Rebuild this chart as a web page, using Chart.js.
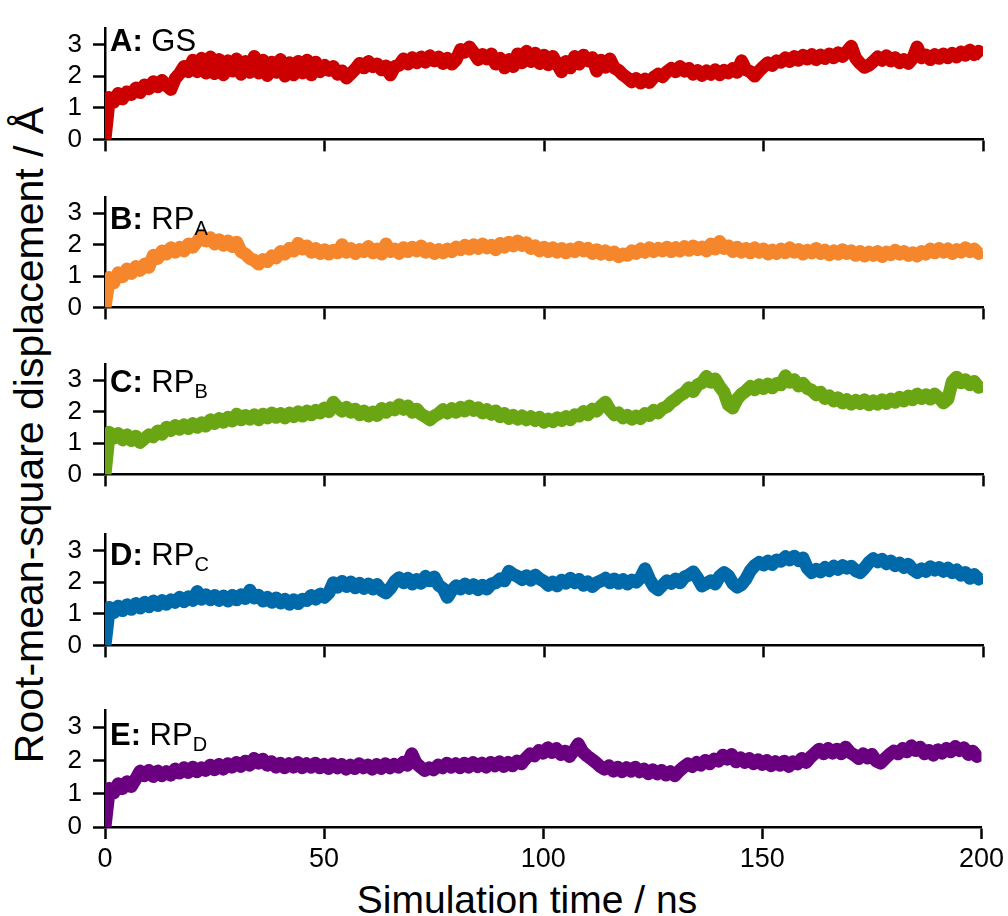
<!DOCTYPE html>
<html>
<head>
<meta charset="utf-8">
<script src="https://cdn.jsdelivr.net/npm/chart.js@4.4.1/dist/chart.umd.min.js"></script>
<style>
body { margin: 0; background: #fff; }
#page { position: relative; width: 1008px; height: 916px; overflow: hidden; font-family: "Liberation Sans", Arial, sans-serif; color: #000; }
#page canvas { position: absolute; left: 0; }
.ytitle { position: absolute; left: 29px; top: 435px; font-size: 41px; line-height: 1; white-space: nowrap; transform: translate(-50%, -50%) rotate(-90deg); }
.xtitle { position: absolute; left: 527px; top: 880px; font-size: 39px; line-height: 1; white-space: nowrap; transform: translateX(-50%); }
</style>
</head>
<body>
<div id="page">
  <div class="ytitle">Root-mean-square displacement / Å</div>
  <div class="xtitle">Simulation time / ns</div>
</div>
<script>
// RMSD traces, one value per ns from 0 to 200 ns (Å)
const rmsdGS = [
  0, 1.32, 1.18, 1.45, 1.28, 1.50, 1.42, 1.62, 1.48, 1.72,
  1.60, 1.82, 1.66, 1.86, 1.70, 1.58, 1.92, 2.08, 2.30, 2.14,
  2.50, 2.14, 2.56, 2.10, 2.60, 2.08, 2.52, 2.04, 2.48, 2.16,
  2.54, 2.06, 2.46, 2.12, 2.62, 2.10, 2.50, 2.02, 2.44, 2.12,
  2.52, 2.00, 2.42, 2.04, 2.46, 2.10, 2.50, 2.04, 2.44, 2.14,
  2.34, 2.18, 2.30, 2.06, 2.16, 1.94, 2.08, 2.22, 2.40, 2.26,
  2.46, 2.30, 2.38, 2.20, 2.32, 2.04, 2.30, 2.34, 2.54, 2.38,
  2.58, 2.42, 2.60, 2.44, 2.64, 2.48, 2.60, 2.40, 2.56, 2.38,
  2.52, 2.84, 2.76, 2.92, 2.74, 2.52, 2.68, 2.54, 2.70, 2.38,
  2.56, 2.26, 2.52, 2.30, 2.70, 2.42, 2.78, 2.46, 2.72, 2.40,
  2.66, 2.36, 2.62, 2.38, 2.14, 2.46, 2.26, 2.62, 2.38, 2.66,
  2.48, 2.58, 2.16, 2.50, 2.28, 2.54, 2.26, 2.18, 2.04, 1.94,
  1.82, 1.92, 1.78, 1.90, 1.80, 1.96, 2.06, 1.98, 2.14, 2.24,
  2.14, 2.30, 2.16, 2.24, 2.06, 2.18, 2.02, 2.16, 2.06, 2.20,
  2.04, 2.18, 2.10, 2.24, 2.12, 2.48, 2.20, 2.14, 2.00, 2.16,
  2.30, 2.42, 2.34, 2.48, 2.44, 2.58, 2.46, 2.62, 2.50, 2.66,
  2.54, 2.68, 2.52, 2.66, 2.56, 2.70, 2.58, 2.74, 2.62, 2.78,
  2.94, 2.56, 2.40, 2.28, 2.34, 2.46, 2.60, 2.50, 2.64, 2.48,
  2.58, 2.42, 2.52, 2.40, 2.56, 2.92, 2.58, 2.66, 2.52, 2.68,
  2.56, 2.70, 2.58, 2.72, 2.60, 2.76, 2.66, 2.82, 2.68, 2.78,
  2.64
]
const rmsdRPA = [
  0, 0.95, 0.78, 1.10, 0.98, 1.22, 1.08, 1.30, 1.18, 1.38,
  1.28, 1.66, 1.56, 1.80, 1.70, 1.90, 1.76, 1.92, 1.80, 2.02,
  1.92, 2.10, 2.30, 2.12, 2.22, 2.02, 2.16, 1.98, 2.12, 1.94,
  2.08, 1.78, 1.70, 1.56, 1.50, 1.38, 1.52, 1.46, 1.64, 1.58,
  1.78, 1.70, 1.88, 1.80, 2.04, 1.86, 1.96, 1.76, 1.88, 1.72,
  1.84, 1.70, 1.82, 1.74, 2.00, 1.76, 1.88, 1.72, 1.84, 1.78,
  1.94, 1.74, 1.86, 1.70, 2.02, 1.78, 1.86, 1.72, 1.90, 1.78,
  1.92, 1.80, 1.96, 1.76, 1.88, 1.72, 1.84, 1.74, 1.86, 1.78,
  1.92, 1.84, 1.98, 1.86, 2.00, 1.88, 2.02, 1.90, 1.98, 1.84,
  2.04, 1.92, 2.08, 1.96, 2.12, 1.98, 2.06, 1.88, 1.96, 1.80,
  1.92, 1.78, 1.90, 1.76, 1.88, 1.74, 1.86, 1.78, 1.92, 1.80,
  1.88, 1.72, 1.84, 1.70, 1.80, 1.68, 1.76, 1.62, 1.70, 1.66,
  1.80, 1.72, 1.86, 1.76, 1.90, 1.78, 1.88, 1.80, 1.92, 1.78,
  1.90, 1.80, 1.94, 1.82, 1.96, 1.84, 1.92, 1.80, 2.02, 1.86,
  2.10, 1.88, 1.96, 1.78, 1.92, 1.76, 1.88, 1.74, 1.90, 1.76,
  1.86, 1.70, 1.82, 1.72, 1.86, 1.74, 1.90, 1.76, 1.84, 1.70,
  1.82, 1.74, 1.88, 1.72, 1.82, 1.68, 1.80, 1.70, 1.84, 1.72,
  1.80, 1.66, 1.78, 1.64, 1.76, 1.66, 1.78, 1.62, 1.76, 1.68,
  1.82, 1.70, 1.78, 1.66, 1.74, 1.64, 1.78, 1.70, 1.86, 1.74,
  1.88, 1.76, 1.86, 1.72, 1.84, 1.76, 1.90, 1.78, 1.86, 1.72,
  1.80
]
const rmsdRPB = [
  0, 1.34, 1.16, 1.30, 1.10, 1.26, 1.08, 1.22, 1.02, 1.14,
  1.26, 1.20, 1.38, 1.28, 1.50, 1.40, 1.56, 1.44, 1.58, 1.46,
  1.62, 1.50, 1.64, 1.54, 1.74, 1.62, 1.78, 1.66, 1.82, 1.70,
  1.92, 1.74, 1.88, 1.76, 1.90, 1.74, 1.92, 1.80, 1.96, 1.82,
  1.94, 1.80, 1.96, 1.84, 2.00, 1.86, 2.02, 1.90, 2.04, 1.96,
  2.12, 2.00, 2.30, 2.14, 2.02, 2.14, 1.98, 2.08, 1.90, 2.02,
  1.86, 1.98, 1.88, 2.10, 1.98, 2.12, 2.06, 2.22, 2.08, 2.18,
  1.98, 2.08, 1.92, 1.84, 1.74, 1.86, 1.94, 2.06, 1.96, 2.10,
  1.98, 2.14, 2.02, 2.18, 2.04, 2.12, 1.96, 2.06, 1.92, 2.02,
  1.84, 1.94, 1.78, 1.88, 1.76, 1.86, 1.74, 1.84, 1.72, 1.82,
  1.66, 1.76, 1.68, 1.80, 1.72, 1.84, 1.74, 1.90, 1.86, 2.00,
  1.90, 2.08, 2.02, 2.18, 2.30, 2.06, 1.90, 1.96, 1.80, 1.88,
  1.76, 1.86, 1.78, 1.94, 1.88, 2.04, 1.96, 2.10, 2.16, 2.30,
  2.40, 2.52, 2.60, 2.76, 2.64, 2.86, 2.92, 3.12, 2.94, 3.04,
  2.80, 2.62, 2.22, 2.12, 2.40, 2.56, 2.66, 2.80, 2.70, 2.86,
  2.74, 2.88, 2.76, 2.90, 2.86, 3.14, 2.94, 3.02, 2.82, 2.90,
  2.74, 2.68, 2.54, 2.62, 2.42, 2.50, 2.34, 2.44, 2.28, 2.38,
  2.24, 2.36, 2.26, 2.38, 2.22, 2.34, 2.24, 2.38, 2.26, 2.40,
  2.30, 2.46, 2.34, 2.50, 2.38, 2.56, 2.42, 2.54, 2.40, 2.56,
  2.44, 2.28, 2.40, 2.96, 3.10, 2.92, 3.02, 2.86, 2.96, 2.78,
  2.84
]
const rmsdRPC = [
  0, 1.20, 1.04, 1.24, 1.10, 1.28, 1.14, 1.32, 1.18, 1.36,
  1.22, 1.40, 1.26, 1.42, 1.30, 1.44, 1.36, 1.52, 1.38, 1.54,
  1.42, 1.70, 1.46, 1.60, 1.44, 1.58, 1.42, 1.56, 1.40, 1.58,
  1.44, 1.60, 1.48, 1.74, 1.50, 1.58, 1.40, 1.52, 1.36, 1.50,
  1.34, 1.46, 1.30, 1.44, 1.32, 1.46, 1.42, 1.58, 1.46, 1.62,
  1.52, 1.66, 1.98, 1.84, 2.02, 1.86, 2.00, 1.82, 1.96, 1.80,
  1.94, 1.78, 1.92, 1.74, 1.66, 1.80, 2.02, 2.14, 1.98, 2.12,
  1.94, 2.08, 1.96, 2.18, 2.04, 2.16, 1.90, 1.80, 1.52, 1.74,
  1.88, 1.78, 1.94, 1.80, 1.92, 1.76, 1.90, 1.78, 1.94, 1.98,
  2.10, 2.04, 2.34, 2.24, 2.18, 2.08, 2.20, 2.06, 2.22, 2.10,
  2.02, 1.90, 2.00, 1.88, 2.06, 1.96, 2.12, 1.98, 2.08, 1.90,
  2.00, 1.86, 1.98, 2.04, 2.12, 1.98, 2.10, 1.96, 2.08, 1.94,
  2.06, 2.00, 2.14, 2.42, 2.10, 1.86, 1.76, 1.90, 2.04, 1.96,
  2.10, 1.98, 2.16, 2.22, 2.32, 2.12, 1.88, 1.96, 2.04, 1.94,
  2.18, 2.30, 2.20, 1.96, 1.84, 1.92, 2.10, 2.36, 2.52, 2.62,
  2.54, 2.66, 2.56, 2.70, 2.66, 2.80, 2.70, 2.82, 2.68, 2.76,
  2.44, 2.30, 2.40, 2.32, 2.46, 2.36, 2.50, 2.40, 2.52, 2.44,
  2.50, 2.36, 2.30, 2.44, 2.62, 2.74, 2.64, 2.72, 2.58, 2.66,
  2.52, 2.60, 2.46, 2.56, 2.40, 2.30, 2.42, 2.34, 2.48, 2.38,
  2.46, 2.34, 2.44, 2.30, 2.38, 2.22, 2.30, 2.12, 2.24, 2.10,
  2.20
]
const rmsdRPD = [
  0, 1.16, 1.02, 1.30, 1.16, 1.36, 1.22, 1.44, 1.68, 1.54,
  1.70, 1.52, 1.68, 1.54, 1.66, 1.56, 1.74, 1.62, 1.78, 1.64,
  1.80, 1.66, 1.78, 1.70, 1.86, 1.72, 1.88, 1.74, 1.90, 1.80,
  1.94, 1.82, 1.98, 1.86, 2.06, 1.92, 2.04, 1.86, 1.96, 1.80,
  1.92, 1.78, 1.90, 1.80, 1.94, 1.78, 1.90, 1.80, 1.92, 1.78,
  1.88, 1.76, 1.90, 1.78, 1.88, 1.74, 1.86, 1.76, 1.90, 1.78,
  1.86, 1.74, 1.88, 1.76, 1.90, 1.78, 1.88, 1.80, 1.94, 1.86,
  2.20, 1.92, 1.80, 1.70, 1.78, 1.72, 1.86, 1.78, 1.92, 1.80,
  1.90, 1.78, 1.92, 1.80, 1.94, 1.82, 1.92, 1.80, 1.94, 1.84,
  1.96, 1.82, 1.94, 1.84, 1.98, 1.90, 2.06, 2.20, 2.14, 2.30,
  2.22, 2.38, 2.24, 2.36, 2.18, 2.28, 2.12, 2.30, 2.50, 2.26,
  2.14, 2.04, 1.94, 1.82, 1.74, 1.84, 1.68, 1.80, 1.66, 1.78,
  1.68, 1.80, 1.66, 1.74, 1.60, 1.72, 1.60, 1.70, 1.56, 1.66,
  1.54, 1.68, 1.80, 1.90, 1.82, 1.94, 1.86, 2.00, 1.90, 2.04,
  1.98, 2.16, 2.04, 2.18, 1.96, 2.08, 1.94, 2.06, 1.90, 2.02,
  1.88, 2.00, 1.84, 1.96, 1.86, 1.98, 1.82, 1.96, 1.90, 2.06,
  1.94, 2.10, 2.22, 2.34, 2.20, 2.36, 2.22, 2.34, 2.20, 2.40,
  2.24, 2.16, 2.06, 2.20, 2.08, 2.18, 1.98, 1.92, 2.06, 2.18,
  2.28, 2.20, 2.36, 2.26, 2.44, 2.30, 2.40, 2.20, 2.30, 2.16,
  2.32, 2.22, 2.36, 2.26, 2.42, 2.30, 2.38, 2.18, 2.28, 2.12,
  2.24
]

const panelSeries = [rmsdGS, rmsdRPA, rmsdRPB, rmsdRPC, rmsdRPD]
const panelLetters = ['A:', 'B:', 'C:', 'D:', 'E:']
const panelNames = ['GS', 'RP', 'RP', 'RP', 'RP']
const panelSubs = ['', 'A', 'B', 'C', 'D']
const timeTicks = [0, 50, 100, 150, 200]
const rmsdTicks = [0, 1, 2, 3]

const colors = ['#cc0000', '#f5862c', '#6aa513', '#0069aa', '#6a0080']
// y pixel of the 3.5 Å top and the 0 Å baseline of each panel
const panelTop = [17, 186, 353, 523, 699]
const panelBottom = [146, 314, 481, 652, 827]
const labelBaseline = [22, 31, 27, 30, 34]
const padTop = 15
const fontFamily = '"Liberation Sans", Arial, sans-serif'

Chart.defaults.font.family = fontFamily
Chart.defaults.color = '#000'

// draws "A: GS", "B: RP" + subscript ... in the top left corner of a panel
const panelLabel = {
    id: 'panelLabel',
    afterDatasetsDraw(chart, args, opts){
        const ctx = chart.ctx
        const x = chart.chartArea.left + 5
        const y = chart.chartArea.top + opts.baseline
        ctx.save()
        ctx.fillStyle = '#000'
        ctx.textBaseline = 'alphabetic'
        ctx.font = 'bold 31px ' + fontFamily
        ctx.fillText(opts.letter, x, y)
        let w = ctx.measureText(opts.letter + ' ').width
        ctx.font = '31px ' + fontFamily
        ctx.fillText(opts.name, x + w, y)
        w += ctx.measureText(opts.name).width
        if(opts.sub){
            ctx.font = '20px ' + fontFamily
            ctx.fillText(opts.sub, x + w, y + 6)
        }
        ctx.restore()
    }
}

const page = document.getElementById('page')

panelSeries.forEach(function(values, i){
    const last = i == panelSeries.length - 1
    const bottomH = last ? 916 - panelBottom[i] : 20
    const canvas = document.createElement('canvas')
    canvas.width = 1008
    canvas.height = panelBottom[i] - panelTop[i] + padTop + bottomH
    canvas.style.top = (panelTop[i] - padTop) + 'px'
    page.appendChild(canvas)

    new Chart(canvas.getContext('2d'), {
        type: 'line',
        data: {
            datasets: [{
                data: values.map(function(v, t){ return {x: t, y: v} }),
                borderColor: colors[i],
                borderWidth: 13,
                borderJoinStyle: 'round',
                borderCapStyle: 'butt',
                pointRadius: 0,
                tension: 0,
                fill: false,
                clip: 0
            }]
        },
        options: {
            responsive: false,
            animation: false,
            devicePixelRatio: 1,
            layout: { padding: { top: padTop, right: 25, left: 0, bottom: 0 } },
            scales: {
                x: {
                    type: 'linear',
                    min: 0,
                    max: 200,
                    afterBuildTicks: function(s){ s.ticks = timeTicks.map(function(v){ return {value: v} }) },
                    afterFit: function(s){ s.height = bottomH },
                    border: { color: '#000', width: 2.5 },
                    grid: { drawOnChartArea: false, tickLength: 12, tickWidth: 2.5, tickColor: '#000' },
                    ticks: { display: last, font: { size: 27 }, color: '#000', padding: 4, maxRotation: 0 }
                },
                y: {
                    min: 0,
                    max: 3.5,
                    afterBuildTicks: function(s){ s.ticks = rmsdTicks.map(function(v){ return {value: v} }) },
                    afterFit: function(s){ s.width = 105 },
                    border: { color: '#000', width: 2.5 },
                    grid: { drawOnChartArea: false, tickLength: 12, tickWidth: 2.5, tickColor: '#000' },
                    ticks: { font: { size: 26 }, color: '#000', padding: 11 }
                }
            },
            plugins: {
                legend: { display: false },
                tooltip: { enabled: false },
                panelLabel: {
                    letter: panelLetters[i],
                    name: panelNames[i],
                    sub: panelSubs[i],
                    baseline: labelBaseline[i]
                }
            }
        },
        plugins: [panelLabel]
    })
})
</script>
</body>
</html>
